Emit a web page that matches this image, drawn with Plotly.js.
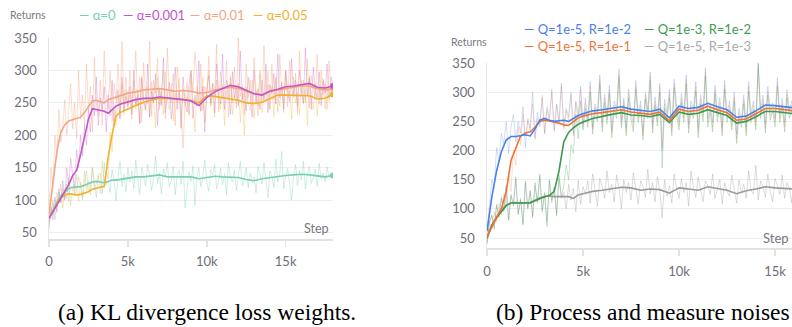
<!DOCTYPE html>
<html>
<head>
<meta charset="utf-8">
<script src="https://cdn.plot.ly/plotly-3.0.1.min.js"></script>
<style>
  html, body { margin: 0; padding: 0; background: #ffffff; }
  #chart { width: 792px; height: 327px; }
</style>
</head>
<body>
<div id="chart"></div>
<script>
// ---------- DATA ----------
// smoothed curve sample steps
const SMOOTH_STEPS = [0,250,500,750,1000,1250,1500,1750,2000,2250,2500,2750,3000,3250,3500,3750,4000,4250,4500,4750,5000,
  5500,6000,6500,7000,7500,8000,8500,9000,9500,10000,10500,11000,11500,12000,12500,13000,13500,14000,14500,15000,15500,16000,16500,17000,17500,18000];
// raw (unsmoothed) sample steps
const RAW_STEPS = [
  0,125,250,375,500,625,750,875,
  1000,1125,1250,1375,1500,1625,1750,1875,
  2000,2125,2250,2375,2500,2625,2750,2875,
  3000,3125,3250,3375,3500,3625,3750,3875,
  4000,4125,4250,4375,4500,4625,4750,4875,
  5000,5125,5250,5375,5500,5625,5750,5875,
  6000,6125,6250,6375,6500,6625,6750,6875,
  7000,7125,7250,7375,7500,7625,7750,7875,
  8000,8125,8250,8375,8500,8625,8750,8875,
  9000,9125,9250,9375,9500,9625,9750,9875,
  10000,10125,10250,10375,10500,10625,10750,10875,
  11000,11125,11250,11375,11500,11625,11750,11875,
  12000,12125,12250,12375,12500,12625,12750,12875,
  13000,13125,13250,13375,13500,13625,13750,13875,
  14000,14125,14250,14375,14500,14625,14750,14875,
  15000,15125,15250,15375,15500,15625,15750,15875,
  16000,16125,16250,16375,16500,16625,16750,16875,
  17000,17125,17250,17375,17500,17625,17750,17875,
  18000];

// (a) KL divergence loss weights
const A_NAMES = ['α=0', 'α=0.001', 'α=0.01', 'α=0.05'];
const A0_SMOOTH    = [72,85,97,107,113,118,120,120,121,123,126,128,129,128,127,129,131,131,132,133,134,
  136,136,137,139,136,136,135,136,133,135,137,136,136,135,132,130,133,135,137,138,139,140,139,137,136,138];
const A0001_SMOOTH = [72,82,93,103,112,124,138,146,170,196,225,241,240,238,237,234,240,245,248,250,252,
  255,257,257,259,258,257,255,253,246,258,267,272,277,275,270,264,262,268,271,275,276,278,280,274,273,276];
const A001_SMOOTH  = [78,130,175,205,216,222,224,226,228,235,245,253,254,252,250,255,257,260,262,263,265,
  267,270,271,272,270,268,269,268,265,266,270,272,274,272,268,264,263,268,270,272,273,276,276,272,270,272];
const A005_SMOOTH  = [72,82,95,103,108,110,109,108,109,111,113,117,119,120,121,166,201,230,235,238,241,
  246,251,254,257,257,256,255,254,250,261,260,258,257,254,250,249,251,257,262,262,262,262,261,256,257,263];

const A0_RAW = [62,78,95,70,88,112,96,118,104,125,98,132,140,108,115,136,122,100,128,145,112,
  118,150,126,104,138,142,110,158,124,130,112,147,128,99,135,160,121,140,113,150,
  128,145,118,162,131,109,150,138,122,155,140,115,133,168,126,142,110,148,137,158,
  120,131,152,108,139,146,125,160,88,117,144,129,153,92,138,150,121,135,162,127,
  114,147,139,155,118,130,149,124,141,108,157,135,128,146,115,138,160,122,133,150,
  119,142,127,136,111,152,140,125,158,131,104,145,137,120,163,128,142,175,118,136,
  149,126,100,138,155,123,146,131,160,117,140,152,126,135,148,121,157,133,142,128,
  151,136,140,139];
const A0001_RAW = [55,90,70,105,82,118,96,130,100,150,122,165,140,118,178,150,200,168,215,185,240,
  205,262,230,290,215,258,240,275,205,262,230,285,212,248,270,225,290,238,260,245,
  275,232,300,248,262,218,288,255,240,310,228,268,250,295,215,272,246,320,235,260,
  282,225,258,305,240,270,212,290,252,236,278,300,226,262,245,315,238,275,205,268,
  292,250,280,235,310,262,248,325,240,285,270,232,298,258,276,245,330,255,268,238,
  290,262,228,300,250,272,240,285,255,310,235,278,265,295,248,325,258,282,240,300,
  270,252,318,262,285,245,300,268,250,335,262,288,240,305,270,258,298,246,284,265,
  310,258,290,280];
const A001_RAW = [80,150,120,200,165,240,190,215,255,200,235,280,210,250,195,300,225,262,215,310,240,
  275,205,320,250,230,285,215,330,260,240,300,222,280,255,310,235,345,250,290,240,
  300,238,275,330,245,290,220,312,260,248,345,230,285,265,318,240,272,300,225,335,
  262,250,295,215,305,270,240,180,255,282,232,300,268,328,290,248,310,238,275,260,
  322,245,280,262,340,236,298,255,270,315,228,288,250,305,242,350,260,275,232,310,
  258,285,245,320,266,230,300,252,338,262,278,240,310,255,290,236,325,268,250,300,
  244,315,270,258,296,232,330,262,285,250,318,242,292,270,255,325,248,300,262,280,
  240,315,268,272];
const A005_RAW = [65,85,100,78,112,95,125,88,118,102,135,92,120,110,140,98,128,105,145,115,130,
  108,150,118,125,138,110,160,125,145,132,205,175,240,215,262,228,280,232,270,248,
  262,225,285,240,270,218,292,250,238,275,228,282,255,212,290,246,268,232,298,255,
  240,280,222,265,250,288,210,272,245,260,230,295,248,205,275,258,236,290,220,268,
  300,245,262,228,285,252,240,278,215,268,255,292,232,260,248,280,220,265,200,275,
  250,238,285,226,270,245,295,235,262,252,300,240,275,228,288,262,245,280,235,298,
  258,270,225,290,250,265,232,285,248,272,215,292,258,240,280,230,270,255,288,240,
  275,252,268,262];

// (b) Process and measure noises
const B_NAMES = ['Q=1e-5, R=1e-2', 'Q=1e-3, R=1e-2', 'Q=1e-5, R=1e-1', 'Q=1e-5, R=1e-3'];
const B1_SMOOTH = [62,120,165,198,218,224,224,226,227,225,237,252,255,252,250,251,252,250,255,260,263,
  268,270,272,275,271,269,267,271,256,276,272,274,281,275,270,257,259,268,278,277,275,273,274,272,273,272];
const B2_SMOOTH = [50,72,85,95,106,110,110,110,109,110,114,118,121,123,130,165,215,231,239,245,249,
  255,259,262,265,261,260,258,262,248,266,262,264,270,265,260,247,250,258,267,267,265,263,264,262,263,262];
const B3_SMOOTH = [52,70,86,100,130,183,205,225,230,232,240,250,252,251,249,247,244,243,250,256,259,
  263,265,267,270,266,264,262,266,251,271,267,269,276,270,265,252,254,263,272,272,270,268,269,267,268,267];
const B4_SMOOTH = [50,72,86,96,106,110,111,110,110,111,115,119,121,122,121,121,122,121,118,124,126,
  130,132,135,137,136,132,134,133,127,136,134,132,138,135,132,126,131,134,138,136,135,134,135,134,135,134];

const B1_RAW = [60,110,150,135,205,180,230,210,250,195,240,262,215,250,230,275,205,255,238,300,222,
  265,245,290,230,275,255,305,235,280,250,315,240,272,258,300,228,285,262,310,245,
  290,255,318,240,280,265,330,248,296,260,312,235,285,270,340,252,290,238,305,268,
  248,320,262,285,232,300,270,335,245,292,258,315,200,288,265,305,240,322,276,250,
  298,262,330,245,285,270,318,238,296,265,342,255,280,248,312,266,290,240,320,262,
  285,250,300,228,272,255,295,240,318,262,285,250,348,270,295,245,310,268,282,255,
  325,262,290,248,305,270,285,255,320,265,292,250,310,268,282,258,315,262,290,250,
  305,268,285,272];
const B2_RAW = [40,75,90,65,108,85,120,98,140,80,125,105,155,90,118,72,148,100,132,85,145,
  110,160,95,128,70,150,115,135,88,158,120,140,175,150,210,195,262,220,285,235,
  272,240,300,228,268,250,315,232,282,245,298,222,270,255,325,238,278,225,290,252,
  232,305,248,270,218,288,255,320,230,278,242,300,170,272,250,290,225,308,260,235,
  282,248,315,230,270,255,302,222,280,250,328,240,265,232,298,250,275,225,305,248,
  270,235,285,212,258,240,280,225,302,248,270,235,350,255,280,230,295,252,268,240,
  310,248,275,232,290,255,270,240,305,250,278,235,295,252,268,242,300,248,275,238,
  290,252,270,262];
const B3_RAW = [45,80,65,95,78,110,90,125,105,160,130,200,175,240,210,262,225,250,235,280,218,
  255,240,295,228,270,250,300,232,278,245,310,236,268,252,295,225,282,248,305,240,
  282,248,310,235,275,258,322,240,290,252,305,230,278,262,332,245,285,232,298,260,
  240,312,255,278,225,295,262,328,238,285,250,308,205,280,258,298,232,315,268,242,
  290,255,322,238,278,262,310,230,288,258,335,248,272,240,305,258,282,232,312,255,
  278,242,292,220,265,248,288,232,310,255,278,242,340,262,288,238,302,260,275,248,
  318,255,282,240,298,262,278,248,312,258,285,242,302,260,275,250,308,255,282,245,
  298,260,278,266];
const B4_RAW = [40,78,88,68,105,90,118,95,138,82,122,108,150,92,115,75,145,102,130,88,140,
  112,155,98,125,78,148,110,138,92,152,118,128,100,142,115,135,95,150,108,138,
  125,148,110,160,132,105,152,138,118,165,128,142,112,158,135,100,150,128,145,115,
  162,130,108,148,138,120,168,126,145,112,155,132,85,150,122,140,110,160,135,118,
  152,128,145,105,165,138,120,155,130,112,148,140,125,160,118,135,150,108,145,130,
  122,158,135,110,150,128,142,118,165,132,125,175,115,148,138,120,160,130,112,152,
  140,125,158,118,145,135,110,162,128,148,120,155,132,118,150,138,125,158,130,145,
  120,152,135,134];

const Y_TICKS = [50,100,150,200,250,300,350];
const X_TICKS = [0,5000,10000,15000];
const X_TICK_TEXT = ['0','5k','10k','15k'];
const CAPTION_A = '(a) KL divergence loss weights.';
const CAPTION_B = '(b) Process and measure noises';

// ---------- STYLE ----------
const W = 792, H = 327;
const px = x => x / W;
const py = y => 1 - y / H;
const SANS = 'Lato, "Noto Sans", sans-serif';
const SERIF = '"Liberation Serif", "DejaVu Serif", serif';
const TICK_COLOR = '#6e6e78';

const A_COLORS = ['#79cfb5', '#c355c8', '#f4a683', '#f0b12c'];
const B_COLORS = ['#4a80ea', '#3e9b4e', '#ef7338', '#9a9a9a'];
const A_RAW_OPACITY = [0.35, 0.3, 0.38, 0.3];
const B_RAW_OPACITY = [0.25, 0.28, 0.22, 0.35];

const A_SMOOTH = [A0_SMOOTH, A0001_SMOOTH, A001_SMOOTH, A005_SMOOTH];
const A_RAW = [A0_RAW, A0001_RAW, A001_RAW, A005_RAW];
const B_SMOOTH = [B1_SMOOTH, B2_SMOOTH, B3_SMOOTH, B4_SMOOTH];
const B_RAW = [B1_RAW, B2_RAW, B3_RAW, B4_RAW];

const traces = [];
function addRaw(raws, colors, ops, xa, ya, order) {
  order.forEach(i => traces.push({
    type: 'scatter', mode: 'lines', x: RAW_STEPS, y: raws[i],
    xaxis: xa, yaxis: ya, line: { color: colors[i], width: 1 }, opacity: ops[i],
    hoverinfo: 'skip', showlegend: false
  }));
}
function addSmooth(sm, colors, names, xa, ya, order, endDots) {
  order.forEach(i => {
    traces.push({
      type: 'scatter', mode: 'lines', x: SMOOTH_STEPS, y: sm[i], name: names[i],
      xaxis: xa, yaxis: ya, line: { color: colors[i], width: 1.6 }, showlegend: false
    });
    if (endDots) traces.push({
      type: 'scatter', mode: 'markers',
      x: [SMOOTH_STEPS[SMOOTH_STEPS.length - 1]], y: [sm[i][sm[i].length - 1]],
      xaxis: xa, yaxis: ya, marker: { color: colors[i], size: 6 }, showlegend: false, hoverinfo: 'skip'
    });
  });
}
addRaw(A_RAW, A_COLORS, A_RAW_OPACITY, 'x', 'y', [0, 3, 1, 2]);
addSmooth(A_SMOOTH, A_COLORS, A_NAMES, 'x', 'y', [0, 3, 2, 1], true);
addRaw(B_RAW, B_COLORS, B_RAW_OPACITY, 'x2', 'y2', [3, 0, 2, 1]);
addSmooth(B_SMOOTH, B_COLORS, B_NAMES, 'x2', 'y2', [3, 1, 2, 0], false);

function xAxis(domain, range, anchor) {
  return {
    domain, range, anchor, tickvals: X_TICKS, ticktext: X_TICK_TEXT,
    showgrid: false, zeroline: false, showline: true, linecolor: '#e2e2e2', linewidth: 2,
    ticks: 'outside', ticklen: 6, tickcolor: '#e2e2e2', tickwidth: 1.5,
    tickfont: { family: SANS, size: 13, color: TICK_COLOR }, ticklabelstandoff: 4, fixedrange: true
  };
}
function yAxis(domain, range, anchor) {
  return {
    domain, range, anchor, tickvals: Y_TICKS,
    showgrid: true, gridcolor: '#eeeeee', gridwidth: 1, zeroline: false,
    showline: true, linecolor: '#e6e6e6', linewidth: 1.5, ticks: '',
    tickfont: { family: SANS, size: 13, color: TICK_COLOR }, ticklabelstandoff: 8, fixedrange: true
  };
}

const ann = [];
function label(x, y, text, opts) {
  ann.push(Object.assign({ xref: 'paper', yref: 'paper', x: px(x), y: py(y), text,
    showarrow: false, xanchor: 'left', yanchor: 'middle',
    font: { family: SANS, size: 12, color: '#888' } }, opts || {}));
}
// left header
label(8, 15, 'Returns', { font: { family: SANS, size: 10.5, color: '#7a7a82' } });
const A_LEG_X = [77, 121, 188, 251];
A_NAMES.forEach((n, i) => label(A_LEG_X[i], 15, '— ' + n, { font: { family: SANS, size: 13, color: A_COLORS[i] } }));
label(302, 229, 'Step', { font: { family: SANS, size: 12.5, color: '#77777f' } });
// right header
label(449, 42, 'Returns', { font: { family: SANS, size: 10.5, color: '#7a7a82' } });
const B_LEG_POS = [[522, 29], [642, 29], [522, 46], [642, 46]];
const B_LEG_COLORS = ['#4a80ea', '#3e9b4e', '#ef7338', '#aaaaaa'];
B_NAMES.forEach((n, i) => label(B_LEG_POS[i][0], B_LEG_POS[i][1], '— ' + n, { font: { family: SANS, size: 13, color: B_LEG_COLORS[i] } }));
label(761, 238, 'Step', { font: { family: SANS, size: 13, color: '#77777f' } });
// captions
label(56, 312, CAPTION_A, { font: { family: SERIF, size: 23.5, color: '#000' } });
label(494, 312, CAPTION_B, { font: { family: SERIF, size: 23.5, color: '#000' } });

const layout = {
  width: W, height: H, margin: { l: 0, r: 0, t: 0, b: 0, pad: 0 },
  paper_bgcolor: '#ffffff', plot_bgcolor: '#ffffff', showlegend: false,
  xaxis: xAxis([px(49), px(333)], [0, 18000], 'y'),
  yaxis: yAxis([py(238.5), py(38)], [41, 350], 'x'),
  xaxis2: xAxis([px(487), 1], [0, 15885], 'y2'),
  yaxis2: yAxis([py(248), py(63)], [33, 350], 'x2'),
  annotations: ann
};

Plotly.newPlot('chart', traces, layout, { staticPlot: true, displayModeBar: false });
</script>
</body>
</html>
